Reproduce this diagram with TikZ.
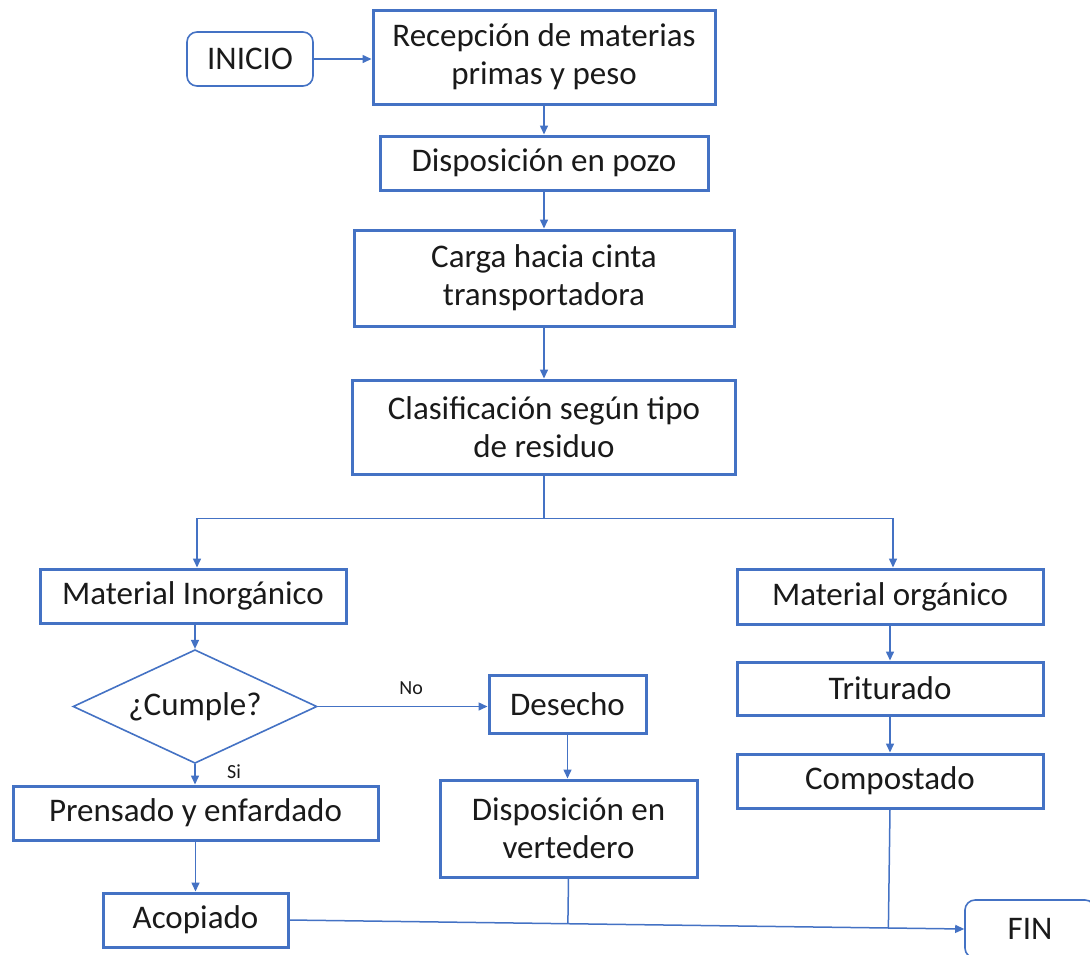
\documentclass[tikz,border=0pt]{standalone}
\usepackage{fontspec}
\setmainfont{Carlito}
\usetikzlibrary{shapes.geometric,arrows.meta,calc}
\definecolor{bl}{HTML}{4472C4}
\definecolor{tx}{HTML}{1A1A1A}
\tikzset{
  box/.style={draw=bl, line width=3pt, fill=white, inner sep=0pt, align=center, text=tx, font=\fontsize{33}{38}\selectfont},
  term/.style={draw=bl, line width=1.6pt, rounded corners=10pt, fill=white, inner sep=0pt, align=center, text=tx, font=\fontsize{33}{38}\selectfont},
  dec/.style={diamond, draw=bl, line width=1.6pt, fill=white, inner sep=-12pt, text=tx, font=\fontsize{33}{38}\selectfont, minimum width=244pt, minimum height=67pt},
  conn/.style={draw=bl, line width=1.5pt},
  arr/.style={conn, -{Triangle[width=8pt,length=9pt]}},
  lbl/.style={text=tx, font=\fontsize{20}{24}\selectfont}
}
\begin{document}
\begin{tikzpicture}[x=1pt,y=-1pt]
\useasboundingbox (0,0) rectangle (1090,954);
\clip (0,0) rectangle (1090,954);
\node[term, minimum width=126pt, minimum height=54pt] (inicio) at (250,59) {INICIO};
\node[box, minimum width=342pt, minimum height=94pt] (recep) at (544,57) {Recepción de materias\\primas y peso};
\node[box, minimum width=328pt, minimum height=54pt] (pozo) at (544,163) {Disposición en pozo};
\node[box, minimum width=380pt, minimum height=96pt] (carga) at (544,278) {Carga hacia cinta\\transportadora};
\node[box, minimum width=383pt, minimum height=94pt] (clasif) at (544,427) {Clasificación según tipo\\de residuo};
\node[box, minimum width=306pt, minimum height=54pt] (inorg) at (193,596) {Material Inorgánico};
\node[box, minimum width=306pt, minimum height=55pt] (org) at (890,596.5) {Material orgánico};
\node[dec] (cumple) at (195,706.5) {¿Cumple?};
\node[box, minimum width=157pt, minimum height=58pt] (desecho) at (567.5,704) {Desecho};
\node[box, minimum width=306pt, minimum height=53pt] (trit) at (890,688.5) {Triturado};
\node[box, minimum width=306pt, minimum height=54pt] (comp) at (890,781) {Compostado};
\node[box, minimum width=365pt, minimum height=54pt] (prens) at (195.5,813) {Prensado y enfardado};
\node[box, minimum width=257pt, minimum height=97pt] (vert) at (568.5,828.5) {Disposición en\\vertedero};
\node[box, minimum width=185pt, minimum height=54pt] (acop) at (195.5,920) {Acopiado};
\node[term, minimum width=130pt, minimum height=58pt] (fin) at (1030,929) {FIN};

\draw[arr] (inicio.east) -- (recep.west |- inicio.east);
\draw[arr] (recep.south) -- (pozo.north);
\draw[arr] (pozo.south) -- (carga.north);
\draw[arr] (carga.south) -- (clasif.north);
\draw[conn] (clasif.south) -- ++(0,43) coordinate (split);
\draw[arr] (split) -| ($(inorg.north)+(4,0)$);
\draw[arr] (split) -| ($(org.north)+(3,0)$);
\draw[arr] (inorg.south -| cumple.north) -- (cumple.north);
\draw[arr] (cumple.south) -- node[lbl, right=28pt, pos=0.35] (si) {Si} (cumple.south |- prens.north);
\draw[arr] (cumple.east) -- node[lbl, above=8pt, pos=0.55] (no) {No} (desecho.west |- cumple.east);
\draw[arr] (desecho.south) -- (desecho.south |- vert.north);
\draw[arr] (org.south) -- (trit.north);
\draw[arr] (trit.south) -- (comp.north);
\draw[arr] (prens.south) -- (acop.north);
\draw[arr] (acop.east) -- (fin.west);
\draw[conn] (vert.south) -- ($(acop.east)!(vert.south)!(fin.west)$);
\draw[conn] (comp.south) -- ($(acop.east)!(comp.south)!(fin.west)$);
\end{tikzpicture}
\end{document}
